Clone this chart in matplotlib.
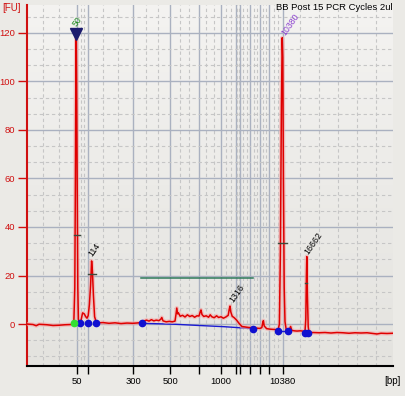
import numpy as np
import matplotlib
matplotlib.use("Agg")
import matplotlib.pyplot as plt

plt.rcParams['font.family'] = ['Liberation Sans', 'DejaVu Sans']

# ladder (bp) and its migration time (s) -> x axis
ladder_bp = [50, 100, 300, 500, 700, 1000, 1500, 2000, 3000, 5000, 7000, 10380]
ladder_t = [32.43, 35.33, 46.58, 55.83, 63.0, 68.5, 72.18, 73.25, 75.83, 78.33, 80.58, 83.93]
labelled_bp = [50, 300, 500, 1000, 10380]

# electropherogram trace: time (s), fluorescence (FU)
trace_t = [20.0, 21.5, 22.3, 23.0, 25.0, 26.5, 28.0, 29.5, 31.0, 31.7,
           31.95, 32.1, 32.2, 32.3, 32.4, 32.55, 32.7, 32.85, 33.1, 33.5,
           33.9, 34.3, 34.7, 35.0, 35.3, 35.6, 35.9, 36.15, 36.35, 36.6,
           36.9, 37.3, 38.0, 39.0, 40.5, 42.0, 43.5, 45.0, 46.5, 48.0,
           48.7, 49.3, 49.9, 50.5, 51.1, 51.7, 52.3, 53.0, 53.45, 53.7,
           54.0, 54.8, 55.6, 56.3, 57.0, 57.25, 57.45, 57.65, 57.85, 58.3,
           58.9, 59.5, 60.1, 60.7, 61.3, 61.9, 62.5, 63.0, 63.3, 63.5,
           63.75, 64.2, 64.8, 65.4, 65.8, 66.2, 66.8, 67.4, 67.9, 68.5,
           69.1, 69.7, 70.3, 70.55, 70.75, 70.95, 71.3, 71.8, 72.4, 73.0,
           73.7, 74.5, 75.3, 76.0, 76.6, 77.4, 78.2, 78.7, 78.95, 79.1,
           79.3, 79.9, 80.7, 81.5, 82.3, 82.8, 83.1, 83.35, 83.6, 83.8,
           83.95, 84.1, 84.3, 84.5, 84.8, 85.2, 85.6, 85.9, 86.2, 86.8,
           87.5, 88.3, 89.0, 89.5, 89.7, 89.85, 89.95, 90.1, 90.3, 90.5,
           91.5, 93.0, 94.5, 96.0, 97.5, 99.0, 100.5, 102.0, 103.5, 105.0,
           106.5, 107.5, 108.5, 110.0, 111.5]
trace_fu = [0.0, -0.2, -0.7, -0.1, -0.3, -0.6, -0.5, -0.3, -0.2, 0.2,
            15, 60, 100, 120, 100, 60, 15, 2, 0.5, 1.5,
            4.6, 4.2, 3.0, 2.4, 3.5, 8, 16, 26, 22, 12,
            3, 0.8, 0.5, 0.6, 0.3, 0.5, 0.2, 0.4, 0.3, 0.5,
            0.5, 1.3, 1.6, 1.2, 1.8, 1.3, 1.6, 1.4, 2.0, 2.7,
            1.3, 0.9, 1.1, 0.9, 1.2, 4.0, 6.6, 4.2, 4.6, 3.2,
            3.6, 2.9, 3.8, 3.1, 3.5, 2.8, 3.4, 3.3, 5.0, 5.8,
            3.9, 3.1, 3.4, 2.8, 3.8, 3.0, 2.6, 3.4, 2.7, 3.0,
            2.4, 2.9, 3.6, 6.0, 7.4, 5.0, 3.2, 2.6, 1.6, 0.3,
            -1.0, -1.2, -1.4, -1.5, -1.9, -1.7, -1.8, -1.5, 0.6, 1.4,
            -0.8, -1.9, -2.1, -2.2, -2.3, -2.2, 0, 30, 90, 118,
            110, 60, 15, 1, -2.3, -2.6, -2.2, -1.0, -2.6, -2.8,
            -2.9, -2.8, -2.9, -3.0, 2, 20, 27.8, 12, -1, -3.6,
            -3.5, -3.6, -3.5, -3.7, -3.5, -3.6, -3.8, -3.6, -3.7, -3.6,
            -3.9, -4.1, -3.8, -3.9, -3.8]

# peak labels
peak_names = ['50', '114', '1316', '10380', '16662']
peak_label_t = [32.5, 36.9, 72.4, 85.9, 91.7]
peak_label_fu = [124.5, 30.7, 12.8, 123.5, 33.4]
peak_colors = ['#1f8a1f', 'black', 'black', '#8b3fd0', 'black']

# half-height marks on peaks
half_t0 = [31.75, 35.25, 82.83, 89.5]
half_t1 = [33.25, 37.25, 85.08, 89.9]
half_fu = [36.7, 20.6, 33.3, 16.8]

# baseline / peak start-end points
base_t = [48.7, 57.0, 63.0, 69.3, 76.6]
base_fu = [0.3, -0.1, -0.6, -1.1, -1.9]
dot_t = [33.33, 35.33, 37.33, 48.68, 76.58, 82.83, 85.18, 89.5, 90.33]
dot_fu = [0.3, 0.3, 0.3, 0.3, -1.9, -2.9, -2.9, -3.5, -3.5]
start_t, start_fu = 31.75, 0.3

# smear region
smear_t = [48.5, 76.4]
smear_fu = 18.8

W, H = 406, 396
fig = plt.figure(figsize=(W / 100, H / 100), dpi=100)
fig.patch.set_facecolor('#ebeae6')
ax = fig.add_axes([27 / W, 1 - 366 / H, 366 / W, 361 / H])
ax.set_xlim(20, 111.5)
ax.set_ylim(-17.3, 131.5)

# background gradient
grad = np.linspace(0, 1, 256).reshape(-1, 1)
ax.imshow(grad, extent=[20, 111.5, -17.3, 131.5], aspect='auto', origin='lower',
          cmap=matplotlib.colors.LinearSegmentedColormap.from_list('bg', ['#e4e3df', '#f4f3f1']),
          zorder=0)

# grid: solid at ladder and every 20 FU, dashed in between
minor_x = []
for a, b in zip(ladder_t[:-1], ladder_t[1:]):
    minor_x += [a + (b - a) / 3, a + 2 * (b - a) / 3]
minor_x += [24.08, 28.08, 88.25, 93.0, 97.75, 102.5, 107.25]
ax.set_xticks(ladder_t)
ax.set_xticklabels([str(b) if b in labelled_bp else '' for b in ladder_bp])
ax.set_xticks(minor_x, minor=True)
ax.set_yticks(np.arange(0, 121, 20))
ax.set_yticks([v * 20 / 3 for v in range(-2, 20) if v % 3 != 0], minor=True)
ax.grid(which='major', color='#aab1c0', lw=1, zorder=1)
ax.grid(which='minor', color='#c6c6c6', lw=0.8, ls=(0, (3, 2.5)), zorder=1)
ax.tick_params(which='minor', length=0)
ax.tick_params(axis='x', which='major', length=6, width=1, colors='black',
               labelsize=6.8, pad=2)
ax.tick_params(axis='y', which='major', length=6.5, width=1, colors='#d01010',
               labelsize=6.8, pad=2)

for s in ['top', 'right']:
    ax.spines[s].set_visible(False)
ax.spines['left'].set_color('#d01010')
ax.spines['left'].set_linewidth(1.5)
ax.spines['bottom'].set_color('black')
ax.spines['bottom'].set_linewidth(1.5)

# smear + baseline
ax.plot(smear_t, [smear_fu, smear_fu], color='#2e7a5a', lw=1.1, zorder=3)
ax.plot(base_t, base_fu, color='#1a1ad0', lw=1, zorder=3)
ax.plot([dot_t[5], dot_t[6]], [dot_fu[5], dot_fu[6]], color='#1a1ad0', lw=1, zorder=3)

# trace with glow
ax.plot(trace_t, trace_fu, color='#f4a8a8', lw=3.0, alpha=0.6, zorder=4,
        solid_joinstyle='round')
ax.plot(trace_t, trace_fu, color='#e00000', lw=1.1, zorder=5)

for t0, t1, f in zip(half_t0, half_t1, half_fu):
    ax.plot([t0, t1], [f, f], color='#3c4a3c', lw=1, zorder=6)

ax.plot(dot_t, dot_fu, 'o', color='#1010d0', ms=4.5, zorder=7, ls='none')
ax.plot([start_t], [start_fu], 'o', color='#33e033', ms=4.5, zorder=7)
ax.plot([32.3], [119.5], 'v', color='#1c1c6e', ms=8, zorder=7)

for name, t, f, c in zip(peak_names, peak_label_t, peak_label_fu, peak_colors):
    ax.text(t, f, name, rotation=55, color=c, fontsize=6.3, ha='center',
            va='center', zorder=8)

fig.text(2 / W, 1 - 8 / H, '[FU]', color='#d01010', fontsize=7, va='center', ha='left')
fig.text(384 / W, 1 - 381 / H, '[bp]', color='black', fontsize=7, va='center', ha='left')
fig.text(393 / W, 1 - 7 / H, 'BB Post 15 PCR Cycles 2ul', color='black',
         fontsize=6.8, va='center', ha='right')

fig.savefig('out.png', dpi=100, facecolor=fig.get_facecolor())
